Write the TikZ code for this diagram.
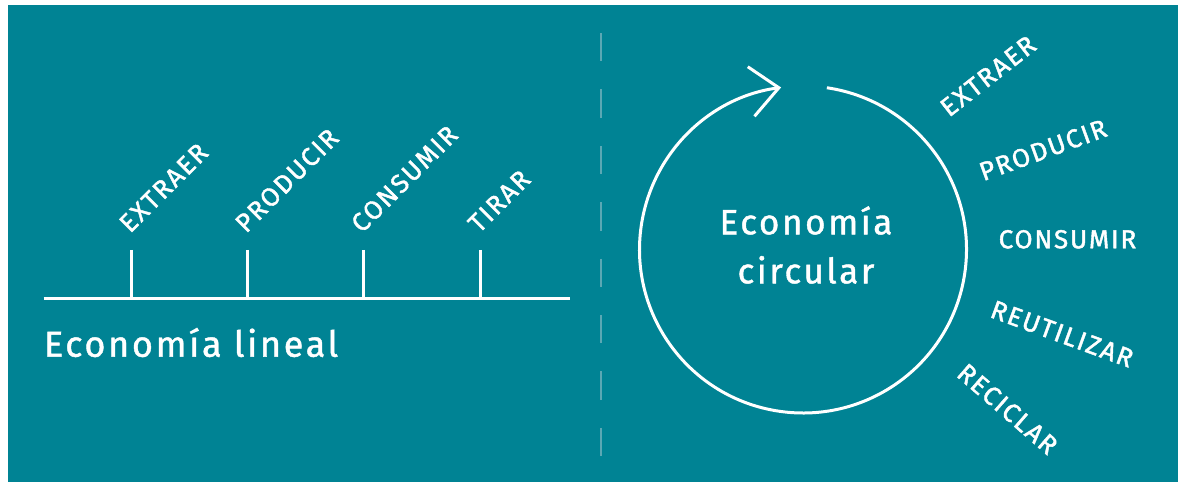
\documentclass[tikz,border=0pt]{standalone}
\usepackage{fontspec}
\setmainfont{Fira Sans}
\newfontfamily\stagefont{Fira Sans}[LetterSpace=7, FakeBold=1.6]
\newfontfamily\titlefont{Fira Sans}[LetterSpace=7.5, FakeBold=1.2]
\usetikzlibrary{arrows.meta, calc}
\definecolor{oceanteal}{HTML}{008394}
\definecolor{dimline}{HTML}{5BA8B4}

\begin{document}
\begin{tikzpicture}[x=1pt, y=1pt, line width=3pt]
    \tikzstyle{stage} = [inner sep=0pt, text=white, font=\stagefont\fontsize{26}{30}\selectfont]
    \tikzstyle{title} = [inner sep=0pt, text=white, font=\titlefont\fontsize{36}{49}\selectfont]
    \tikzstyle{tick} = [draw=white, line width=3pt]

    % page and panel
    \fill[white] (0,0) rectangle (1178,484);
    \useasboundingbox (0,0) rectangle (1178,484);
    \fill[oceanteal] (8,2) rectangle (1178,479);

    % divider
    \coordinate (divtop) at (601,451);
    \coordinate (divbot) at (601,0);
    \draw[dimline, line width=2pt, dash pattern=on 28.4pt off 28pt] (divtop) -- (divbot);

    % linear economy
    \coordinate (axisL) at (43.5,185.5);
    \coordinate (axisR) at (569.5,185.5);
    \draw [white, line width=3.2pt] (axisL) -- (axisR);

    \coordinate (tt1) at (131,234);
    \coordinate (tt2) at (247,234);
    \coordinate (tt3) at (363,234);
    \coordinate (tt4) at (480,234);
    \draw [tick] (tt1) -- (tt1 |- axisL);
    \draw [tick] (tt2) -- (tt2 |- axisL);
    \draw [tick] (tt3) -- (tt3 |- axisL);
    \draw [tick] (tt4) -- (tt4 |- axisL);

    \node (lextraer)  [stage, rotate=45, anchor=base west] at ($(tt1)+(-2,15)$) {EXTRAER};
    \node (lproducir) [stage, rotate=45, anchor=base west] at ($(tt2)+(-2,15)$) {PRODUCIR};
    \node (lconsumir) [stage, rotate=45, anchor=base west] at ($(tt3)+(-2,15)$) {CONSUMIR};
    \node (ltirar)    [stage, rotate=45, anchor=base west] at ($(tt4)+(-2,15)$) {TIRAR};

    \node (lineal) [title, anchor=base west] at ($(axisL)+(-1,-58.2)$) {Economía lineal};

    % circular economy
    \coordinate (hub) at (803,234.5);
    \draw [white, -{Straight Barb[length=28pt, width=50pt]}]
      ($(hub)+(81.6:163.5)$) arc[start angle=81.6, end angle=-262.3, radius=163.5];
    \node (circular) [title, align=center, font=\titlefont\fontsize{35}{49}\selectfont]
      at ($(hub)+(3,4.5)$) {Economía\\circular};

    \node (cextraer)    [stage, rotate=38]  at (988,408)    {EXTRAER};
    \node (cproducir)   [stage, rotate=20]  at (1043,334)   {PRODUCIR};
    \node (cconsumir)   [stage]             at (1067.5,244.7) {CONSUMIR};
    \node (creutilizar) [stage, rotate=-20] at (1062,150)   {REUTILIZAR};
    \node (creciclar)   [stage, rotate=-41] at (1007.5,75)  {RECICLAR};
\end{tikzpicture}
\end{document}
